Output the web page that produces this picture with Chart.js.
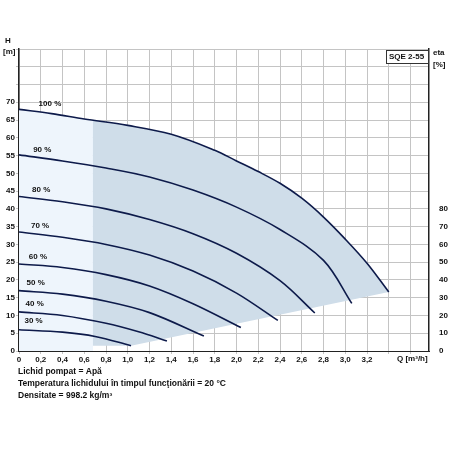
<!DOCTYPE html>
<html>
<head>
<meta charset="utf-8">
<script src="https://cdn.jsdelivr.net/npm/chart.js@4"></script>
<style>
  body { margin: 0; background: #fff; }
  #wrap { width: 450px; height: 450px; }
</style>
</head>
<body>
<div id="wrap"><canvas id="grafico" width="450" height="450"></canvas></div>
<script>
// Curbe H(Q) pentru turaţii 30..100 %
const curba100 = [[0,68],[0.3,66.8],[0.6,65.3],[1.0,63.5],[1.4,61],[1.8,56.5],[2.0,53.5],[2.2,50.5],[2.4,47.2],[2.6,43],[2.8,37.7],[3.0,31.5],[3.2,24.7],[3.4,16.6]];
const curba90 = [[0,55.2],[0.4,53.5],[0.8,51.5],[1.2,49],[1.6,45.3],[2.0,40.5],[2.4,34.2],[2.8,25.5],[3.06,13.4]];
const curba80 = [[0,43.5],[0.4,42],[0.8,40],[1.2,37],[1.6,33],[2.0,27.5],[2.4,19.8],[2.72,10.7]];
const curba70 = [[0,33.5],[0.4,32],[0.8,30],[1.2,27],[1.6,22.5],[2.0,16.3],[2.38,8.6]];
const curba60 = [[0,24.5],[0.4,23.5],[0.8,21.5],[1.2,18.3],[1.6,13.3],[2.04,6.6]];
const curba50 = [[0,17],[0.4,16],[0.8,14],[1.2,10.8],[1.7,4.2]];
const curba40 = [[0,11],[0.4,10],[0.8,7.8],[1.1,5.4],[1.36,2.8]];
const curba30 = [[0,6],[0.4,5.3],[0.7,4.1],[1.03,1.5]];
const curbe = [curba100, curba90, curba80, curba70, curba60, curba50, curba40, curba30];
const etichete = ['100 %', '90 %', '80 %', '70 %', '60 %', '50 %', '40 %', '30 %'];
const pozEticheta = [[0.18,68.5],[0.13,55.5],[0.12,44.3],[0.11,34.2],[0.09,25.5],[0.07,18],[0.06,12.2],[0.05,7.3]];
const ticksQ = [0,0.2,0.4,0.6,0.8,1.0,1.2,1.4,1.6,1.8,2.0,2.2,2.4,2.6,2.8,3.0,3.2,3.4,3.6];
const note = ['Lichid pompat = Apă', 'Temperatura lichidului în timpul funcţionării = 20 °C', 'Densitate = 998.2 kg/m³'];

const pct = a => a.map(p => ({ x: p[0], y: p[1] }));

// Zone haşurate
const zonaLuminoasa = pct([[0,0], ...curba100.filter(p => p[0] <= 0.6), [0.68,64.9], [0.68,0]]);
const zonaInchisa = pct([[0.68,1.5], [0.68,64.9], ...curba100.filter(p => p[0] > 0.68), [1.03,1.5]]);

const FONT = { family: 'Liberation Sans, Arial', size: 8, weight: 'bold' };

const datasets = [
  { data: zonaLuminoasa, showLine: true, fill: 'shape', backgroundColor: '#eef5fc', borderWidth: 0, pointRadius: 0, order: 10 },
  { data: zonaInchisa, showLine: true, fill: 'shape', backgroundColor: '#cfdde9', borderWidth: 0, pointRadius: 0, order: 9 },
  ...curbe.map(c => ({ data: pct(c), showLine: true, fill: false, borderColor: '#0d1a4a', borderWidth: 1.6, pointRadius: 0, tension: 0.35, order: 1 }))
];

const textePlugin = {
  id: 'texte',
  afterDraw(chart) {
    const { ctx, scales: { x, y }, chartArea: a } = chart;
    ctx.save();
    ctx.fillStyle = '#111';
    ctx.font = 'bold 8px Liberation Sans, Arial';
    ctx.textBaseline = 'bottom';
    etichete.forEach((t, i) => {
      ctx.textAlign = 'left';
      ctx.fillText(t, x.getPixelForValue(pozEticheta[i][0]), y.getPixelForValue(pozEticheta[i][1]));
    });
    ctx.textBaseline = 'middle';
    ctx.fillText('H', 5, 41);
    ctx.fillText('[m]', 3, 52);
    ctx.fillText('eta', 433, 53);
    ctx.fillText('[%]', 433, 65);
    ctx.fillText('Q [m³/h]', 397, a.bottom + 8);
    // caseta model
    ctx.fillStyle = '#fff';
    ctx.fillRect(386, 50, 42, 13);
    ctx.strokeStyle = '#333';
    ctx.lineWidth = 1;
    ctx.strokeRect(386.5, 50.5, 42, 13);
    ctx.fillStyle = '#111';
    ctx.font = 'bold 8px Liberation Sans, Arial';
    ctx.fillText('SQE 2-55', 389, 57);
    ctx.font = 'bold 8.5px Liberation Sans, Arial';
    note.forEach((t, i) => ctx.fillText(t, 18, 372 + i * 12));
    ctx.restore();
  }
};

new Chart(document.getElementById('grafico'), {
  type: 'scatter',
  data: { datasets },
  plugins: [textePlugin],
  options: {
    responsive: false,
    animation: false,
    layout: { padding: { top: 49, bottom: 80, left: 0, right: 0 } },
    plugins: { legend: { display: false }, tooltip: { enabled: false } },
    scales: {
      x: {
        type: 'linear', min: 0, max: 3.77,
        afterBuildTicks: s => { s.ticks = ticksQ.map(v => ({ value: v })); },
        afterFit: s => { s.height = 19; },
        grid: { color: '#c4c4c4', lineWidth: 1, drawTicks: true, tickLength: 3 },
        border: { color: '#222', width: 1 },
        ticks: { font: FONT, color: '#111', padding: 1, maxRotation: 0, autoSkip: false,
          callback: v => v > 3.3 ? '' : (v === 0 ? '0' : v.toFixed(1).replace('.', ',')) }
      },
      y: {
        type: 'linear', min: 0, max: 85,
        afterBuildTicks: s => { s.ticks = Array.from({ length: 18 }, (_, i) => ({ value: i * 5 })); },
        afterFit: s => { s.width = 19; },
        grid: { color: '#c4c4c4', lineWidth: 1, tickLength: 3 },
        border: { color: '#222', width: 1.5 },
        ticks: { font: FONT, color: '#111', padding: 1, callback: v => v > 70 ? '' : v }
      },
      eta: {
        position: 'right', type: 'linear', min: 0, max: 170,
        afterBuildTicks: s => { s.ticks = Array.from({ length: 9 }, (_, i) => ({ value: i * 10 })); },
        afterFit: s => { s.width = 21; },
        grid: { display: false, drawOnChartArea: false },
        border: { color: '#222', width: 1.5 },
        ticks: { font: FONT, color: '#111', padding: 2 }
      }
    }
  }
});
</script>
</body>
</html>
